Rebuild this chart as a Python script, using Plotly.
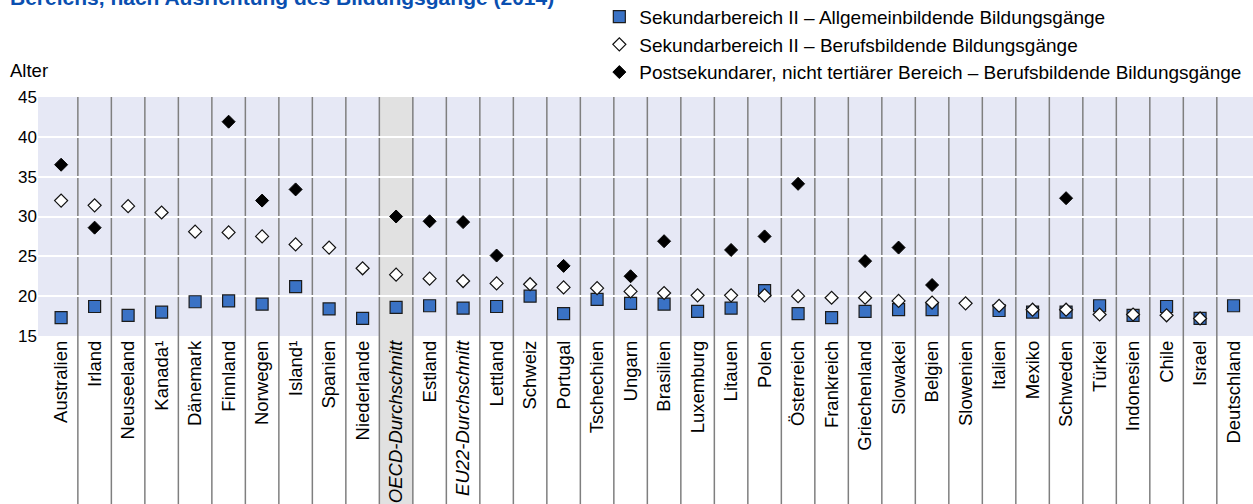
import plotly.graph_objects as go

categories = ["Australien", "Irland", "Neuseeland", "Kanada¹", "Dänemark", "Finnland", "Norwegen",
              "Island¹", "Spanien", "Niederlande", "OECD-Durchschnitt", "Estland", "EU22-Durchschnitt",
              "Lettland", "Schweiz", "Portugal", "Tschechien", "Ungarn", "Brasilien", "Luxemburg",
              "Litauen", "Polen", "Österreich", "Frankreich", "Griechenland", "Slowakei", "Belgien",
              "Slowenien", "Italien", "Mexiko", "Schweden", "Türkei", "Indonesien", "Chile", "Israel",
              "Deutschland"]

allgemein = [17.3, 18.7, 17.6, 18.0, 19.3, 19.4, 19.0, 21.2, 18.4, 17.2, 18.6, 18.8, 18.5,
             18.7, 20.0, 17.8, 19.6, 19.1, 19.0, 18.1, 18.5, 20.7, 17.8, 17.3, 18.1, 18.3, 18.3,
             None, 18.2, 18.0, 18.0, 18.8, 17.6, 18.7, 17.2, 18.8]

berufsbildend = [32.0, 31.4, 31.3, 30.5, 28.1, 28.0, 27.5, 26.5, 26.1, 23.5, 22.7, 22.2, 21.9,
                 21.6, 21.5, 21.1, 21.0, 20.6, 20.4, 20.1, 20.1, 20.1, 20.0, 19.8, 19.8, 19.4, 19.2,
                 19.1, 18.8, 18.3, 18.3, 17.7, 17.7, 17.6, 17.2, None]

postsekundar = [36.5, 28.6, None, None, None, 41.9, 32.0, 33.4, None, None, 30.0, 29.4, 29.3,
                25.1, None, 23.8, None, 22.5, 26.9, None, 25.8, 27.5, 34.1, None, 24.4, 26.1, 21.4,
                None, None, None, 32.3, None, None, None, None, None]

y_ticks = [15, 20, 25, 30, 35, 40, 45]

series_names = ["Sekundarbereich II – Allgemeinbildende Bildungsgänge",
                "Sekundarbereich II – Berufsbildende Bildungsgänge",
                "Postsekundarer, nicht tertiärer Bereich – Berufsbildende Bildungsgänge"]

highlight = ["OECD-Durchschnitt", "EU22-Durchschnitt"]
shaded = "OECD-Durchschnitt"

FONT = "Liberation Sans"
n = len(categories)
x = list(range(n))

fig = go.Figure()
fig.add_trace(go.Scatter(
    x=x, y=allgemein, mode="markers", name=series_names[0],
    marker=dict(symbol="square", size=12, color="#3a72c5", line=dict(color="#1c1c1c", width=1.2)),
    legendgroup="a"))
fig.add_trace(go.Scatter(
    x=x, y=berufsbildend, mode="markers", name=series_names[1],
    marker=dict(symbol="diamond", size=10, color="white", line=dict(color="#111111", width=1.2)),
    legendgroup="b"))
fig.add_trace(go.Scatter(
    x=x, y=postsekundar, mode="markers", name=series_names[2],
    marker=dict(symbol="diamond", size=10, color="black", line=dict(color="black", width=1)),
    legendgroup="c"))

ticktext = [f"<i>{c}</i>" if c in highlight else c for c in categories]

shapes = []
si = categories.index(shaded)
shapes.append(dict(type="rect", xref="x", yref="paper", x0=si - 0.5, x1=si + 0.5, y0=-0.72, y1=1,
                   fillcolor="#e1e1e1", line=dict(width=0), layer="below"))
for i in range(n - 1):
    shapes.append(dict(type="line", xref="x", yref="paper", x0=i + 0.5, x1=i + 0.5, y0=-0.72, y1=1,
                       line=dict(color="#7f7f7f", width=1.5), layer="between"))

fig.update_layout(
    width=1253, height=504,
    margin=dict(l=38, r=0, t=97, b=168, autoexpand=False),
    paper_bgcolor="white",
    plot_bgcolor="#e6e8f5",
    font=dict(family=FONT, size=15, color="black"),
    shapes=shapes,
    showlegend=True,
    legend=dict(x=0.462, xanchor="left", y=1.415, yanchor="top", orientation="v",
                font=dict(family=FONT, size=19, color="black"), tracegroupgap=0,
                bgcolor="rgba(0,0,0,0)", itemclick=False),
    annotations=[
        dict(text="<b>Bereichs, nach Ausrichtung des Bildungsgänge (2014)</b>", xref="paper", yref="paper",
             x=-0.025, y=1.36, xanchor="left", yanchor="bottom", showarrow=False,
             font=dict(family=FONT, size=21, color="#0a4fb0")),
        dict(text="Alter", xref="paper", yref="paper", x=-0.025, y=1.058, xanchor="left", yanchor="bottom",
             showarrow=False, font=dict(family=FONT, size=18.5, color="black")),
    ],
)
fig.update_xaxes(
    range=[-0.69, n - 1 + 0.58], tickmode="array", tickvals=x, ticktext=ticktext, tickangle=-90,
    showgrid=False, zeroline=False, showline=False, ticks="", tickfont=dict(family=FONT, size=18.5),
)
fig.update_yaxes(
    range=[15, 45], tickmode="array", tickvals=y_ticks, showgrid=True, gridcolor="white", gridwidth=2,
    zeroline=False, showline=False, ticks="", tickfont=dict(family=FONT, size=17),
)

fig.write_html("out.html", config={"displayModeBar": False},
               post_script="document.body.style.margin='0';")
